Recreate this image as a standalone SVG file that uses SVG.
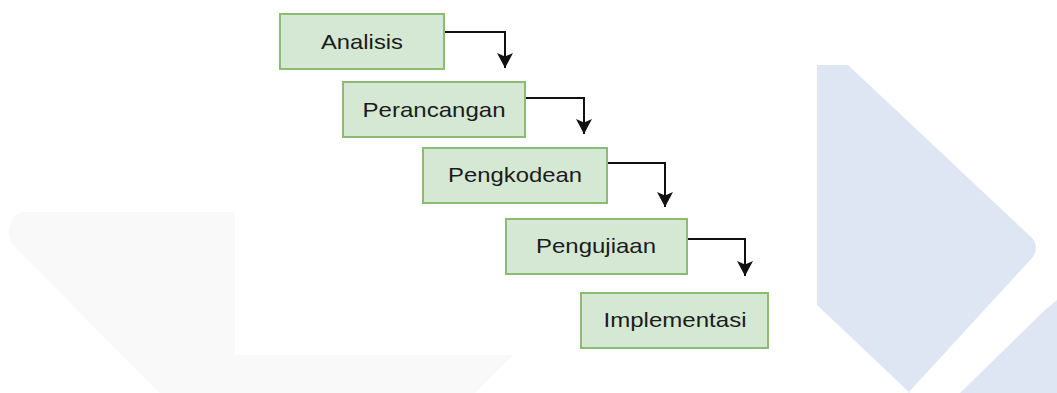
<svg xmlns="http://www.w3.org/2000/svg" width="1057" height="393" viewBox="0 0 1057 393">
  <defs>
    <style>
      .box { fill: #d5e8d4; stroke: #8cbc72; stroke-width: 2; }
      .lbl { font-family: "Liberation Sans", Arial, sans-serif; font-size: 21px; fill: #1c1c1c; text-anchor: middle; }
      .edge { fill: none; stroke: #111111; stroke-width: 2; }
    </style>
    <marker id="arrow" markerUnits="userSpaceOnUse" markerWidth="16" markerHeight="16" viewBox="0 0 16 16" refX="15" refY="8" orient="auto">
      <path d="M0,0 L15,8 L0,16 L3.5,8 Z" fill="#111111"/>
    </marker>
  </defs>

  <rect width="1057" height="393" fill="#ffffff"/>

  <!-- faint background shapes -->
  <g id="backdrop">
    <path d="M22,212 L235,212 L235,355 L513,355 L475,393 L160,393 L12,244 Q6,232 10,224 Q14,213 22,212 Z" fill="#f9f9f9"/>
    <path d="M817,65 L848,65 L1032,238 Q1040,248 1032,258 L908,393 L910,393 L817,305 Z" fill="#dee5f3"/>
    <path d="M1045,310 L1057,300 L1057,393 L960,393 Z" fill="#dee5f3"/>
  </g>

  <!-- connectors -->
  <g id="connectors">
    <path class="edge" d="M444,32 H505 V68" marker-end="url(#arrow)"/>
    <path class="edge" d="M525,98 H584 V134" marker-end="url(#arrow)"/>
    <path class="edge" d="M607,163 H665 V207" marker-end="url(#arrow)"/>
    <path class="edge" d="M687,239 H745 V276" marker-end="url(#arrow)"/>
  </g>

  <!-- process stages -->
  <g id="analisis">
    <rect class="box" x="280" y="14" width="164" height="55"/>
    <text class="lbl" x="362" y="49" textLength="82" lengthAdjust="spacingAndGlyphs">Analisis</text>
  </g>
  <g id="perancangan">
    <rect class="box" x="343" y="82" width="182" height="55"/>
    <text class="lbl" x="434" y="117" textLength="143" lengthAdjust="spacingAndGlyphs">Perancangan</text>
  </g>
  <g id="pengkodean">
    <rect class="box" x="423" y="148" width="184" height="55"/>
    <text class="lbl" x="515" y="182" textLength="134" lengthAdjust="spacingAndGlyphs">Pengkodean</text>
  </g>
  <g id="pengujiaan">
    <rect class="box" x="506" y="219" width="181" height="55"/>
    <text class="lbl" x="596" y="253" textLength="120" lengthAdjust="spacingAndGlyphs">Pengujiaan</text>
  </g>
  <g id="implementasi">
    <rect class="box" x="581" y="293" width="187" height="55"/>
    <text class="lbl" x="675" y="327" textLength="143" lengthAdjust="spacingAndGlyphs">Implementasi</text>
  </g>
</svg>
